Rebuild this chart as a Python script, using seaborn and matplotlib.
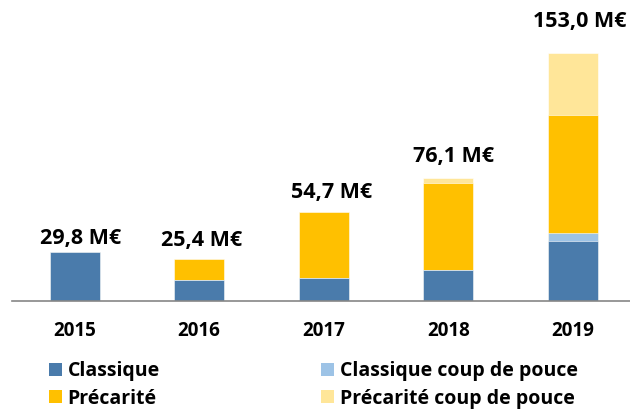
import matplotlib
matplotlib.use("Agg")
import matplotlib.pyplot as plt
from matplotlib.patches import Patch
import seaborn as sns
import numpy as np

# --- Data (M€) ---
years = ["2015", "2016", "2017", "2018", "2019"]
classique = [29.8, 12.6, 13.8, 18.7, 36.7]
classique_cdp = [0.0, 0.0, 0.0, 0.0, 5.2]
precarite = [0.0, 12.8, 40.9, 54.3, 72.6]
precarite_cdp = [0.0, 0.0, 0.0, 3.1, 38.5]

series_names = ["Classique", "Classique coup de pouce", "Précarité", "Précarité coup de pouce"]
colors = ["#4A7BAB", "#9DC3E6", "#FFC000", "#FFE699"]

# label nudges (points), labels were placed by hand in the original
label_dx = [4.3, 1.4, 5.8, 3.6, 4.7]
label_dy = [1.0, 4.6, 4.8, 6.3, 14.0]

sns.set_style("white")
plt.rcParams["font.family"] = ["Open Sans", "DejaVu Sans"]
plt.rcParams["text.color"] = "black"
plt.rcParams["xtick.color"] = "black"

fig = plt.figure(figsize=(6.3, 4.09), dpi=100)
ax = fig.add_axes([12.3 / 630, 108.5 / 409, 623 / 630, 258.6 / 409])

# --- Stacked bars: draw cumulative totals from top segment down ---
stack = np.array([classique, classique_cdp, precarite, precarite_cdp])
cumul = stack.cumsum(axis=0)
for i in range(len(series_names) - 1, -1, -1):
    sns.barplot(x=years, y=cumul[i], order=years, color=colors[i], saturation=1,
                width=0.4, errorbar=None, ax=ax, edgecolor="white", linewidth=0.4)

# --- Total labels ---
totals = cumul[-1]
for pos, total in enumerate(totals):
    ax.annotate(f"{total:.1f} M€".replace(".", ","), (pos, total),
                xytext=(label_dx[pos], 1.5 + label_dy[pos]), textcoords="offset points",
                ha="center", va="bottom", fontsize=15.5, fontweight="bold")

# --- Axes styling ---
ax.set_xlim(-0.5, 4.5)
ax.set_ylim(0, 160)
ax.set_xlabel("")
ax.set_ylabel("")
ax.set_yticks([])
for side in ["left", "top", "right"]:
    ax.spines[side].set_visible(False)
ax.spines["bottom"].set_color("#868686")
ax.spines["bottom"].set_linewidth(1.2)
ax.set_xticks(range(len(years)))
ax.set_xticklabels(years, fontsize=13.5, fontweight="bold")
ax.tick_params(axis="x", which="major", length=0, pad=15)
ax.set_xticks(np.arange(-0.5, 5, 1), minor=True)
ax.tick_params(axis="x", which="minor", length=5.5, width=1.2, color="#868686", direction="out")

# --- Legend ---
handles = [Patch(facecolor=c, edgecolor="none") for c in colors]
order = [0, 2, 1, 3]
fig.legend([handles[i] for i in order], [series_names[i] for i in order],
           ncol=2, loc="upper left", bbox_to_anchor=(49 / 630, 1 - 361 / 409),
           frameon=False, borderpad=0, borderaxespad=0,
           handlelength=0.65, handleheight=0.65, handletextpad=0.3,
           columnspacing=8.3, labelspacing=0.4,
           prop={"size": 14, "weight": "bold"})

plt.savefig("out.png", dpi=100)
